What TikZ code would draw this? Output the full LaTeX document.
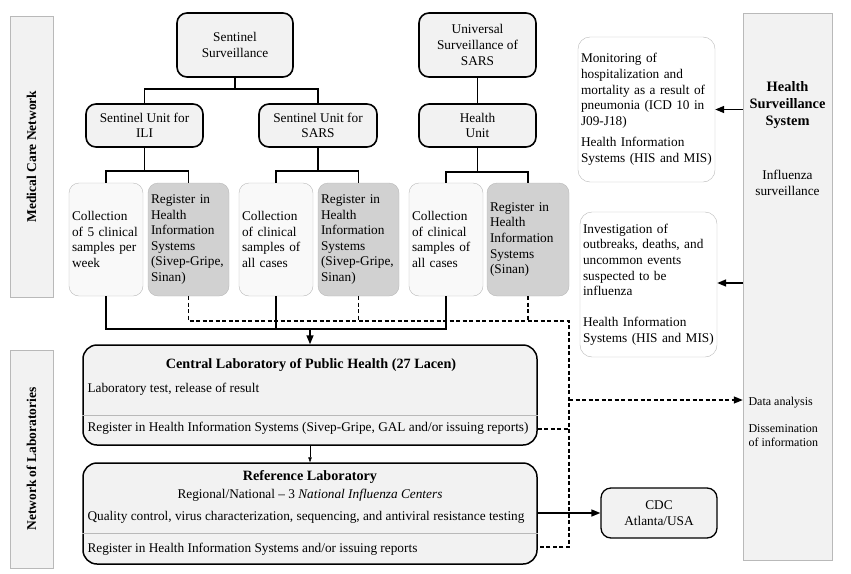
\documentclass[tikz,border=0pt]{standalone}
\usepackage{fontspec}
\setmainfont{Liberation Serif}
\usepackage{tikz}
\usetikzlibrary{arrows.meta, positioning}
\tikzstyle{band} = [draw=gray!55, fill=gray!10, inner sep=0pt]
\tikzstyle{unit} = [draw=black, line width=1.6pt, rounded corners=10pt, fill=gray!10, align=center, inner sep=2pt]
\tikzstyle{collect} = [draw=gray!55, fill=gray!5, rounded corners=10pt, align=left, inner sep=3pt]
\tikzstyle{register} = [collect, fill=gray!36]
\tikzstyle{info} = [draw=gray!55, fill=white, rounded corners=12pt, align=left, inner sep=3pt]
\tikzstyle{lab} = [draw=black, line width=1.5pt, rounded corners=14pt, fill=gray!10]
\tikzstyle{tree} = [line width=1.5pt]
\tikzstyle{arrow} = [line width=1.5pt,->,>={Triangle[length=9pt,width=7pt]}]
\tikzstyle{dataflow} = [line width=1.3pt, dash pattern=on 4pt off 2.5pt]

\begin{document}
\begin{tikzpicture}[
    x=1pt, y=-1pt,
    every node/.style={font=\fontsize{13.3}{15.6}\selectfont},
    divider/.style={draw=gray!55, line width=0.6pt}
]
\useasboundingbox (0,0) rectangle (851,573);

% Side bands
\node (mcn) [band, minimum width=43, minimum height=281] at (31.5,156.5) {};
\node (mcntext) [rotate=90, font=\fontsize{13.5}{16}\selectfont\bfseries] at (mcn) {Medical Care Network};
\node (nol) [band, minimum width=43, minimum height=218] at (31.5,459) {};
\node (noltext) [rotate=90, font=\fontsize{13.5}{16}\selectfont\bfseries] at (nol) {Network of Laboratories};
\node (hss) [band, minimum width=89, minimum height=547] at (787.5,286.5) {};
\node (hsstitle) [align=center, font=\fontsize{14.4}{16.8}\selectfont\bfseries] at (787.5,105) {Health\\Surveillance\\System};
\node (flu) [align=center] at (787.5,183) {Influenza\\surveillance};
\node (data) [anchor=west, font=\fontsize{12}{14}\selectfont] at (745,403) {Data analysis};
\node (dissem) [anchor=north west, align=left, font=\fontsize{12}{14}\selectfont] at (745,421) {Dissemination\\of information};

% Surveillance units
\node (sentinel) [unit, minimum width=116, minimum height=64] at (235,45) {Sentinel\\Surveillance};
\node (ili) [unit, minimum width=117, minimum height=43] at (144.5,125.5) {Sentinel Unit for\\ILI};
\node (sars) [unit, minimum width=118, minimum height=43] at (318,125.5) {Sentinel Unit for\\SARS};
\node (univ) [unit, minimum width=117, minimum height=64] at (477.5,45) {Universal\\Surveillance of\\SARS};
\node (hunit) [unit, minimum width=117, minimum height=43] at (477.5,125.5) {Health\\Unit};

% Collection and register
\node (colili) [collect, minimum width=74, minimum height=113, text width=68] at (106,239.5) {Collection\\of 5 clinical\\samples per\\week};
\node (regili) [register, minimum width=81, minimum height=113, text width=75] at (188.5,239.5) {Register in\\Health\\Information\\Systems\\(Sivep-Gripe,\\Sinan)};
\node (colsars) [collect, minimum width=74, minimum height=113, text width=68] at (276,239.5) {Collection\\of clinical\\samples of\\all cases};
\node (regsars) [register, minimum width=81, minimum height=113, text width=75] at (358.5,239.5) {Register in\\Health\\Information\\Systems\\(Sivep-Gripe,\\Sinan)};
\node (colhu) [collect, minimum width=74, minimum height=113, text width=68] at (446,239.5) {Collection\\of clinical\\samples of\\all cases};
\node (reghu) [register, minimum width=82, minimum height=113, text width=76] at (528,239.5) {Register in\\Health\\Information\\Systems\\(Sinan)};

% Health surveillance boxes
\node (monitor) [info, minimum width=137, minimum height=145, text width=131] at (646.5,109.5) {Monitoring of\\hospitalization and\\mortality as a result of\\pneumonia (ICD 10 in\\J09-J18)\\[6pt]Health Information\\Systems (HIS and MIS)};
\node (investig) [info, minimum width=137, minimum height=145, text width=131] at (648.5,284.5) {Investigation of\\outbreaks, deaths, and\\uncommon events\\suspected to be\\influenza\\[15.5pt]Health Information\\Systems (HIS and MIS)};

% Laboratories
\node (lacen) [lab, minimum width=454, minimum height=100] at (310,395) {};
\node (lacentitle) [font=\fontsize{14.2}{16}\selectfont\bfseries] at (311,365) {Central Laboratory of Public Health (27 Lacen)};
\node (lacentest) [anchor=west] at (84,389) {Laboratory test, release of result};
\draw [divider] (lacen.west |- 0,415) -- (lacen.east |- 0,415);
\node (lacenreg) [anchor=west] at (84,428) {Register in Health Information Systems (Sivep-Gripe, GAL and/or issuing reports)};

\node (refl) [lab, minimum width=454, minimum height=101] at (310,513.5) {};
\node (reftitle) [font=\fontsize{14.2}{16}\selectfont\bfseries] at (310,477) {Reference Laboratory};
\node (refsub) at (310,495) {Regional/National -- 3 \textit{National Influenza Centers}};
\node (refqc) [anchor=west] at (84,517) {Quality control, virus characterization, sequencing, and antiviral resistance testing};
\draw [divider] (refl.west |- 0,533) -- (refl.east |- 0,533);
\node (refreg) [anchor=west] at (84,549) {Register in Health Information Systems and/or issuing reports};

\node (cdc) [unit, line width=1.3pt, minimum width=116, minimum height=50] at (659,513) {CDC\\Atlanta/USA};

% Tree connectors
\draw [tree] (sentinel.south) -- ++(0,11) -| (ili.north);
\draw [tree] (sentinel.south) -- ++(0,11) -| (sars.north);
\draw [tree] (ili.south) -- ++(0,23) -| (colili.north);
\draw [tree] (ili.south) -- ++(0,23) -| (regili.north);
\draw [tree] (sars.south) -- ++(0,23) -| (colsars.north);
\draw [tree] (sars.south) -- ++(0,23) -| (regsars.north);
\draw [tree] (univ.south) -- (hunit.north);
\draw [tree] (hunit.south) -- ++(0,24) -| (colhu.north);
\draw [tree] (hunit.south) -- ++(0,24) -| (reghu.north);

% Samples to laboratory
\draw [tree] (colili.south) |- (colhu.south |- 0,329) -- (colhu.south);
\draw [tree] (colsars.south) -- (colsars.south |- 0,329);
\draw [arrow] (lacen.north |- 0,329) -- (lacen.north);
\draw [->, >={Triangle[length=5pt,width=3.5pt]}, line width=0.5pt] (lacen.south) -- (refl.north);
\draw [arrow] (refl.east |- 0,513) -- (cdc.west);

% Data flow
\coordinate (dtop) at (569,321);
\coordinate (dbot) at (569,547);
\draw [dataflow] (regili.south) |- (dtop) -- (dbot) -- (refl.east |- dbot);
\draw [dataflow] (regsars.south) -- (regsars.south |- dtop);
\draw [dataflow] (reghu.south) -- (reghu.south |- dtop);
\draw [dataflow] (lacen.east |- 0,429) -- (dtop |- 0,429);
\draw [dataflow, ->, >={Triangle[length=9pt,width=7pt]}] (dtop |- 0,400) -- (hss.west |- 0,400);

% Surveillance system to boxes
\draw [arrow] (hss.west |- monitor.east) -- (monitor.east);
\draw [arrow] (hss.west |- 0,283) -- (investig.east |- 0,283);

\end{tikzpicture}
\end{document}
